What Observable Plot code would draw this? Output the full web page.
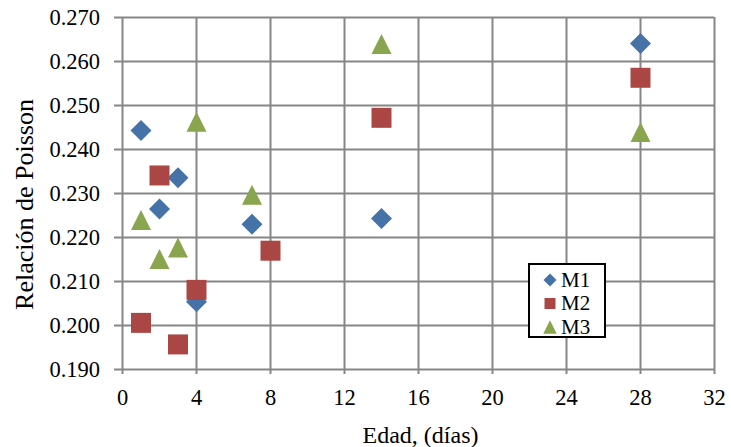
<!DOCTYPE html>
<html>
<head>
<meta charset="utf-8">
<script src="https://cdn.jsdelivr.net/npm/d3@7"></script>
<script src="https://cdn.jsdelivr.net/npm/@observablehq/plot@0.6"></script>
<style>
  html, body { margin: 0; padding: 0; background: #fff; }
  #wrap { position: relative; width: 731px; height: 447px; }
  #legend { position: absolute; left: 528px; top: 263px; width: 78px; height: 75px;
            box-sizing: border-box; border: 2px solid #000; background: #fff; }
  #legend svg { display: block; overflow: visible; }
</style>
</head>
<body>
<div id="wrap"></div>
<script>
// ---- data ----
const seriesNames = ["M1", "M2", "M3"];
const seriesColors = ["#4572A7", "#AA4643", "#89A54E"];

const m1Days = [1, 2, 3, 4, 7, 14, 28];
const m1Values = [0.2443, 0.2265, 0.2336, 0.2054, 0.2230, 0.2243, 0.2641];

const m2Days = [1, 2, 3, 4, 8, 14, 28];
const m2Values = [0.2006, 0.2341, 0.1957, 0.2081, 0.2170, 0.2472, 0.2563];

const m3Days = [1, 2, 3, 4, 7, 14, 28];
const m3Values = [0.2240, 0.2151, 0.2177, 0.2463, 0.2297, 0.2640, 0.2440];

const xTicks = [0, 4, 8, 12, 16, 20, 24, 28, 32];
const yTicks = [0.19, 0.20, 0.21, 0.22, 0.23, 0.24, 0.25, 0.26, 0.27];

const xLabel = "Edad, (días)";
const yLabel = "Relación de Poisson";

const serif = "Liberation Serif";

// ---- marker shapes (Excel-like) ----
const diamondSym = { draw(c, size) { const r = Math.sqrt(size) / 2 * 1.05; c.moveTo(0, -r); c.lineTo(r, 0); c.lineTo(0, r); c.lineTo(-r, 0); c.closePath(); } };
const squareSym  = { draw(c, size) { const r = Math.sqrt(size) / 2; c.moveTo(-r, -r); c.lineTo(r, -r); c.lineTo(r, r); c.lineTo(-r, r); c.closePath(); } };
const triangleSym = { draw(c, size) { const r = Math.sqrt(size) / 2; c.moveTo(0, -r); c.lineTo(r, r); c.lineTo(-r, r); c.closePath(); } };
const symbols = [diamondSym, squareSym, triangleSym];

const seriesData = [
  m1Days.map((d, i) => ({day: d, value: m1Values[i]})),
  m2Days.map((d, i) => ({day: d, value: m2Values[i]})),
  m3Days.map((d, i) => ({day: d, value: m3Values[i]}))
];

const gridColor = "#868686";

const chart = Plot.plot({
  width: 731,
  height: 447,
  marginLeft: 122,
  marginRight: 17,
  marginTop: 17,
  marginBottom: 78,
  style: { fontFamily: serif, background: "#fff", color: "#000" },
  x: { domain: [0, 32] },
  y: { domain: [0.19, 0.27] },
  marks: [
    Plot.gridX(xTicks, { stroke: gridColor, strokeOpacity: 1, strokeWidth: 2 }),
    Plot.gridY(yTicks, { stroke: gridColor, strokeOpacity: 1, strokeWidth: 2 }),
    Plot.axisX({ ticks: xTicks, tickSize: 5, tickPadding: 15, stroke: gridColor, strokeWidth: 2, fill: "#000", fontSize: 22.5, fontFamily: serif, label: null, tickFormat: d => String(d) }),
    Plot.axisY({ ticks: yTicks, tickSize: 8, tickPadding: 14.5, stroke: gridColor, strokeWidth: 2, fill: "#000", fontSize: 22.5, fontFamily: serif, label: null, tickFormat: d3.format(".3f") }),
    ...seriesData.map((data, k) => Plot.dot(data, { x: "day", y: "value", symbol: symbols[k], fill: seriesColors[k], r: 11.28, stroke: "none" })),
    Plot.text([xLabel], { frameAnchor: "bottom", text: d => d, textAnchor: "middle", dy: 73.5, dx: 2, lineAnchor: "bottom", fontSize: 24, fontFamily: serif, fill: "#000" }),
    Plot.text([yLabel], { frameAnchor: "left", text: d => d, textAnchor: "middle", rotate: -90, dx: -90, dy: 11, lineAnchor: "bottom", fontSize: 26, fontFamily: serif, fill: "#000" })
  ]
});

const wrap = document.getElementById("wrap");
wrap.appendChild(chart);

// ---- legend ----
const legend = document.createElement("div");
legend.id = "legend";
wrap.appendChild(legend);
const lsvg = d3.select(legend).append("svg").attr("width", 74).attr("height", 71);
const legendMarkerSize = [13, 11, 13.5];
seriesNames.forEach((name, k) => {
  const cy = 15 + k * 23.5;
  const p = d3.path();
  symbols[k].draw(p, legendMarkerSize[k] * legendMarkerSize[k] / (k === 0 ? 1.1 : 1));
  lsvg.append("path").attr("d", p.toString()).attr("transform", `translate(20,${cy})`).attr("fill", seriesColors[k]);
  lsvg.append("text").attr("x", 31).attr("y", cy + 6.8).attr("font-family", serif)
      .attr("font-size", 21).attr("fill", "#000").text(name);
});
</script>
</body>
</html>
